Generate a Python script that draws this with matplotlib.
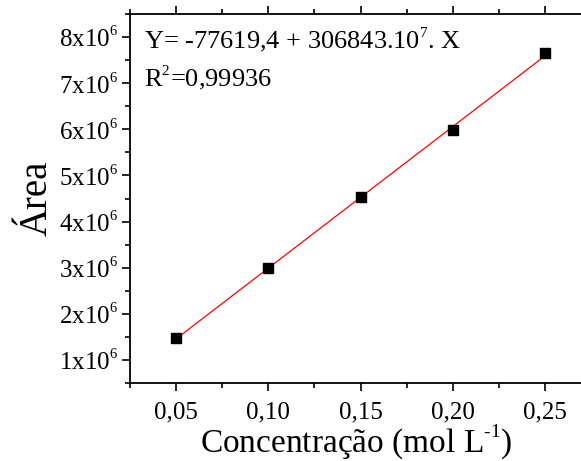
import matplotlib
matplotlib.use("Agg")
import matplotlib.pyplot as plt
import matplotlib._mathtext as mathtext_internal
import numpy as np
from matplotlib.ticker import FixedLocator, FuncFormatter

plt.rcParams['font.family'] = ['Liberation Serif', 'DejaVu Serif']
plt.rcParams['mathtext.fontset'] = 'custom'
plt.rcParams['mathtext.rm'] = 'Liberation Serif'
plt.rcParams['mathtext.it'] = 'Liberation Serif:italic'
plt.rcParams['mathtext.default'] = 'rm'
# smaller, slightly higher exponents, closer to typeset style
mathtext_internal.SHRINK_FACTOR = 0.58
if hasattr(mathtext_internal, 'FontConstantsBase'):
    mathtext_internal.FontConstantsBase.sup1 = 0.95

# Calibration data
concentracao = [0.05, 0.10, 0.15, 0.20, 0.25]
area = [1.48e6, 3.00e6, 4.54e6, 5.98e6, 7.65e6]

# Linear fit reported on the chart
intercept = -77619.4
slope = 3.06843e7
r2_text = "0,99936"

x_ticks = [0.05, 0.10, 0.15, 0.20, 0.25]
x_tick_labels = ["0,05", "0,10", "0,15", "0,20", "0,25"]
y_ticks = [1e6, 2e6, 3e6, 4e6, 5e6, 6e6, 7e6, 8e6]

fig = plt.figure(figsize=(5.81, 4.61), dpi=100)
ax = fig.add_axes([130/581, 78/461, 452/581, 369/461])

xfit = np.array([concentracao[0], concentracao[-1]])
ax.plot(xfit, intercept + slope * xfit, color='red', lw=0.9, zorder=2)
ax.plot(concentracao, area, 's', color='black', ms=6.5, zorder=3)

ax.set_xlim(0.025, 0.27)
ax.set_ylim(0.5e6, 8.5e6)

ax.xaxis.set_major_locator(FixedLocator(x_ticks))
ax.xaxis.set_minor_locator(FixedLocator(np.arange(0.025, 0.27, 0.05)))
ax.set_xticklabels(x_tick_labels)
ax.yaxis.set_major_locator(FixedLocator(y_ticks))
ax.yaxis.set_minor_locator(FixedLocator(np.arange(0.5e6, 8.6e6, 1e6)))
ax.yaxis.set_major_formatter(FuncFormatter(lambda v, p: r"%dx10$^{6}$" % round(v / 1e6)))

ax.tick_params(axis='both', which='major', direction='out', length=6, width=1.2,
               labelsize=18, pad=3)
ax.tick_params(axis='both', which='minor', direction='out', length=3.5, width=1.2)
ax.tick_params(axis='x', which='both', top=True)
ax.tick_params(axis='x', which='both', labeltop=False)
ax.tick_params(axis='x', which='major', pad=7)

for side in ['left', 'bottom', 'top']:
    ax.spines[side].set_linewidth(1.3)
ax.spines['right'].set_visible(False)

ax.set_xlabel(r"Concentração (mol L$^{\text{-1}}$)", fontsize=24, labelpad=-1)
ax.set_ylabel("Área", fontsize=28, labelpad=2)

ax.text(0.03, 0.97, r"Y= -77619,4 + 306843.10$^{7}$. X", transform=ax.transAxes,
        fontsize=19, va='top', ha='left')
ax.text(0.03, 0.865, r"R$^{2}$=" + r2_text, transform=ax.transAxes,
        fontsize=19, va='top', ha='left')

fig.savefig("out.png", dpi=100)
